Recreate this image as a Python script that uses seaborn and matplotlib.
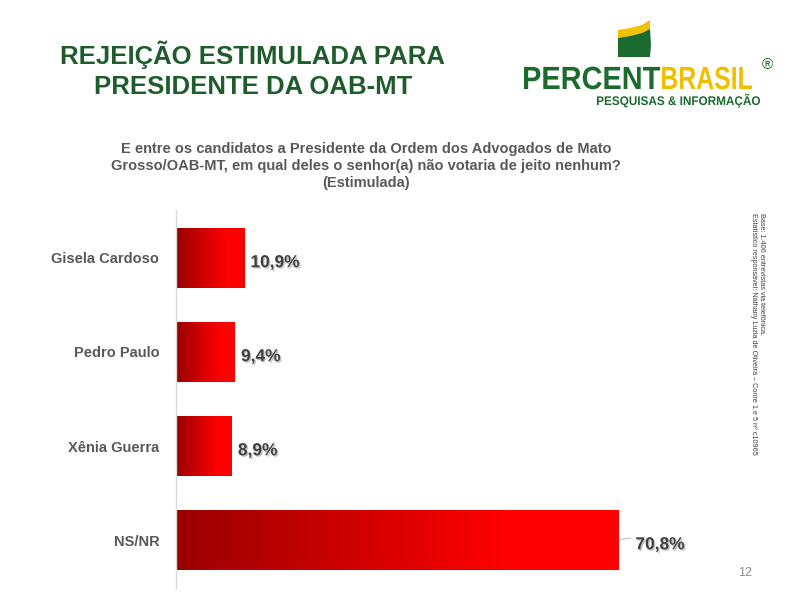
import matplotlib
matplotlib.use('Agg')
import matplotlib.pyplot as plt
import matplotlib.patheffects as pe
from matplotlib.colors import LinearSegmentedColormap
from matplotlib.textpath import TextPath
from matplotlib.font_manager import FontProperties
from matplotlib.patches import PathPatch, Polygon
from matplotlib.transforms import Affine2D
import seaborn as sns
import numpy as np
import pandas as pd

# dados do gráfico
candidatos = ['Gisela Cardoso', 'Pedro Paulo', 'Xênia Guerra', 'NS/NR']
rejeicao = [10.9, 9.4, 8.9, 70.8]

titulo = 'REJEIÇÃO ESTIMULADA PARA\nPRESIDENTE DA OAB-MT'
pergunta = ('E entre os candidatos a Presidente da Ordem dos Advogados de Mato\n'
            'Grosso/OAB-MT, em qual deles o senhor(a) não votaria de jeito nenhum?\n'
            '(Estimulada)')
nota = ('Base: 1.406 entrevistas via telefônica.\n'
        'Estatístico responsável: Nathany Luzia de Oliveira – Conre 1 e 5 nº c10965')

sns.set_style('white')
plt.rcParams['font.family'] = ['Liberation Sans', 'DejaVu Sans']

VERDE = '#1e5c2c'
CINZA = '#595959'

df = pd.DataFrame({'candidato': candidatos, 'rejeicao': rejeicao})

fig = plt.figure(figsize=(8, 6), dpi=100)
ax = fig.add_axes([0.22, 0.02, 0.625, 0.63])

sns.barplot(data=df, x='rejeicao', y='candidato', orient='h', color='red',
            width=0.64, ax=ax)

# degradê vermelho em cada barra
cmap = LinearSegmentedColormap.from_list('verm', [(0, '#990000'), (0.75, '#ff0000'), (1, '#ff0000')])
grad = np.linspace(0, 1, 256).reshape(1, -1)
for p in ax.patches:
    x0, y0 = p.get_x(), p.get_y()
    w, h = p.get_width(), p.get_height()
    img = ax.imshow(grad, cmap=cmap, extent=[x0, x0 + w, y0 + h, y0],
                    aspect='auto', zorder=2)
    img.set_clip_path(p)
    p.set_facecolor('none')
    p.set_edgecolor('none')

ax.set_xlim(0, 80)
ax.set_ylim(3.51, -0.51)
ax.set_xlabel('')
ax.set_ylabel('')
ax.set_xticks([])
for s in ['top', 'right', 'bottom']:
    ax.spines[s].set_visible(False)
ax.spines['left'].set_color('#d9d9d9')
ax.spines['left'].set_linewidth(1)
ax.tick_params(axis='y', length=0, pad=12)
for lab in ax.get_yticklabels():
    lab.set_fontsize(10.5)
    lab.set_fontweight('bold')
    lab.set_color(CINZA)

sombra = [pe.withSimplePatchShadow(offset=(1, -1), shadow_rgbFace='#999999', alpha=0.6)]
for i, v in enumerate(rejeicao):
    txt = f'{v:.1f}'.replace('.', ',') + '%'
    if v > 50:
        ax.annotate(txt, xy=(v + 0.1, i), xytext=(v + 2.7, i + 0.05),
                    ha='left', va='center', fontsize=12.5, fontweight='bold',
                    color='#404040', path_effects=sombra,
                    arrowprops=dict(arrowstyle='-', color='#bfbfbf', lw=0.8,
                                    shrinkA=1, shrinkB=0,
                                    connectionstyle='arc3,rad=0.2'))
    else:
        ax.text(v + 1.0, i + 0.05, txt, ha='left', va='center', fontsize=12.5,
                fontweight='bold', color='#404040', path_effects=sombra)

# títulos
fig.text(253 / 800, 1 - 70 / 600, titulo, ha='center', va='center', fontsize=18.5,
         fontweight='bold', color=VERDE, linespacing=1.3)
fig.text(366 / 800, 1 - 166 / 600, pergunta, ha='center', va='center', fontsize=10.5,
         fontweight='bold', color=CINZA, linespacing=1.3)
fig.text(757 / 800, 1 - 213 / 600, nota, ha='center', va='top', rotation=-90,
         fontsize=5.2, color='#404040', multialignment='left', linespacing=1.2)
fig.text(745 / 800, 1 - 573 / 600, '12', ha='center', va='center', fontsize=9,
         color='#8c8c8c')

# logotipo (coordenadas em pixels)
lg = fig.add_axes([0, 0, 1, 1])
lg.set_xlim(0, 800)
lg.set_ylim(600, 0)
lg.axis('off')
lg.patch.set_alpha(0)

lg.add_patch(Polygon([(618, 30), (630, 28), (642, 25), (650, 20), (650, 29), (642, 33),
                      (630, 36), (618, 38)], closed=True, color='#f2c200', lw=0))
lg.add_patch(Polygon([(618, 38), (630, 36), (642, 33), (650, 29), (651, 45), (650, 57),
                      (618, 57)], closed=True, color='#1b6b2f', lw=0))


def palavra(texto, x0, base, largura, altura, cor, peso='bold'):
    tp = TextPath((0, 0), texto, size=1, prop=FontProperties(family='Liberation Sans', weight=peso))
    bb = tp.get_extents()
    sx = largura / bb.width
    sy = altura / 0.716
    tr = Affine2D().translate(-bb.x0, 0).scale(sx, -sy).translate(x0, base) + lg.transData
    lg.add_patch(PathPatch(tp, transform=tr, color=cor, lw=0))


palavra('PERCENT', 524, 89, 136, 23, '#1b6b2f')
palavra('BRASIL', 662, 89, 90, 23, '#f0c000')
palavra('PESQUISAS & INFORMAÇÃO', 597, 105, 163, 9, '#1b6b2f')
lg.text(767, 65, '®', ha='center', va='center', fontsize=11, color='#1b6b2f')

fig.savefig('out.png', dpi=100)
